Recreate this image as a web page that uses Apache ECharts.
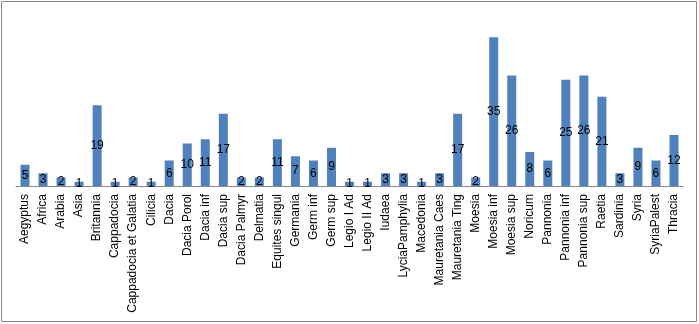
<!DOCTYPE html>
<html><head><meta charset="utf-8">
<script src="https://cdn.jsdelivr.net/npm/echarts@6/dist/echarts.min.js"></script>
<style>html,body{margin:0;padding:0;background:#fff}#c{width:699px;height:324px}</style>
</head><body><div id="c"></div>
<script>
const categories = ["Aegyptus","Africa","Arabia","Asia","Britannia","Cappadocia","Cappadocia et Galatia","Cilicia","Dacia","Dacia Porol","Dacia inf","Dacia sup","Dacia Palmyr","Delmatia","Equites singul","Germania","Germ inf","Germ sup","Legio I Ad","Legio II Ad","Iudaea","LyciaPamphylia","Macedonia","Mauretania Caes","Mauretania Ting","Moesia","Moesia inf","Moesia sup","Noricum","Pannonia","Pannonia inf","Pannonia sup","Raetia","Sardinia","Syria","SyriaPalest","Thracia"];
const values = [5,3,2,1,19,1,2,1,6,10,11,17,2,2,11,7,6,9,1,1,3,3,1,3,17,2,35,26,8,6,25,26,21,3,9,6,12];

const chart = echarts.init(document.getElementById('c'));
chart.setOption({
  animation: false,
  textStyle: { fontFamily: 'Liberation Sans, Arial, sans-serif' },
  graphic: [{ type: 'rect', shape: { x: 1.5, y: 1.5, width: 695, height: 320 }, style: { fill: 'none', stroke: '#888', lineWidth: 1 } }],
  grid: { left: 16, right: 16, top: 16, bottom: 138, containLabel: false },
  xAxis: {
    type: 'category', data: categories,
    axisLine: { lineStyle: { color: '#888' } },
    axisTick: { show: false },
    axisLabel: { rotate: 90, interval: 0, color: '#000', fontSize: 12, margin: 8 }
  },
  yAxis: { type: 'value', min: 0, max: 40, show: false, splitLine: { show: false } },
  series: [{
    type: 'bar', data: values, barWidth: 9,
    itemStyle: { color: '#4F81BD' },
    label: { show: true, position: 'inside', color: '#000', fontSize: 12 }
  }]
});
</script></body></html>
